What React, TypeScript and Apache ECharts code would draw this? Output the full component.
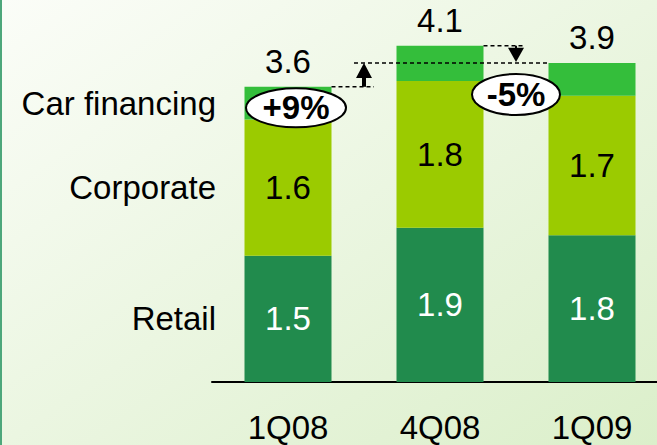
import React, { useEffect, useRef } from "react";
import * as echarts from "echarts";

const categories = ["1Q08", "4Q08", "1Q09"];
const seriesNames = ["Retail", "Corporate", "Car financing"];
const retail = [1.54, 1.88, 1.79];
const corporate = [1.66, 1.79, 1.7];
const carFinancing = [0.4, 0.43, 0.4];
const retailLabels = ["1.5", "1.9", "1.8"];
const corporateLabels = ["1.6", "1.8", "1.7"];
const totalLabels = ["3.6", "4.1", "3.9"];
const changeLabels = ["+9%", "-5%"];

const FONT = "'Liberation Sans', Arial, sans-serif";
const FS = 33;
const COLORS = ["#218B4D", "#9BCB00", "#34BE3B"];

export default function App() {
  const ref = useRef<HTMLDivElement>(null);
  useEffect(() => {
    const el = ref.current;
    if (!el) return;
    const chart = echarts.init(el, undefined, { renderer: "svg" });
    const option: any = {
      animation: false,
      backgroundColor: new echarts.graphic.LinearGradient(0, 0, 1, 1, [
        { offset: 0, color: "#fbfdf8" },
        { offset: 1, color: "#dbefca" },
      ]),
      grid: { left: 212, top: 13, width: 456, height: 369, outerBoundsMode: "none", containLabel: false },
      xAxis: {
        type: "category",
        data: categories,
        axisLine: { lineStyle: { color: "#000", width: 2 } },
        axisTick: { show: false },
        axisLabel: { fontSize: FS, color: "#000", fontFamily: FONT, margin: 29 },
      },
      yAxis: { type: "value", min: 0, max: 4.5, show: false },
      series: [
        {
          name: seriesNames[0],
          type: "bar",
          stack: "s",
          barWidth: 87,
          data: retail,
          itemStyle: { color: COLORS[0] },
          label: {
            show: true,
            position: "inside",
            color: "#fff",
            fontSize: FS,
            fontFamily: FONT,
            formatter: (p: any) => retailLabels[p.dataIndex],
          },
        },
        {
          name: seriesNames[1],
          type: "bar",
          stack: "s",
          barWidth: 87,
          data: corporate,
          itemStyle: { color: COLORS[1] },
          label: {
            show: true,
            position: "inside",
            color: "#000",
            fontSize: FS,
            fontFamily: FONT,
            formatter: (p: any) => corporateLabels[p.dataIndex],
          },
        },
        {
          name: seriesNames[2],
          type: "bar",
          stack: "s",
          barWidth: 87,
          data: carFinancing,
          itemStyle: { color: COLORS[2] },
          label: {
            show: true,
            position: "top",
            distance: 9,
            color: "#000",
            fontSize: FS,
            fontFamily: FONT,
            formatter: (p: any) => totalLabels[p.dataIndex],
          },
        },
      ],
    };
    chart.setOption(option);

    const px = (i: number, v: number) =>
      chart.convertToPixel({ xAxisIndex: 0, yAxisIndex: 0 }, [i, v]) as number[];
    const totals = categories.map((_, i) => retail[i] + corporate[i] + carFinancing[i]);
    const cx = categories.map((_, i) => px(i, 0)[0]);
    const top = totals.map((t, i) => px(i, t)[1]);
    const half = 43.5;
    const b01 = (cx[0] + cx[1]) / 2;
    const b12 = (cx[1] + cx[2]) / 2;

    const legendY = [
      px(0, retail[0] / 2)[1],
      px(0, retail[0] + corporate[0] / 2)[1],
      px(0, retail[0] + corporate[0] + carFinancing[0] / 2)[1],
    ];

    const dash = { stroke: "#000", lineWidth: 1.5, lineDash: [4, 3] };
    const graphic: any[] = [
      { type: "rect", shape: { x: 0, y: 0, width: 2, height: 445 }, style: { fill: "#4da77b" }, z: 100 },
      ...seriesNames.map((n, k) => ({
        type: "text",
        x: 216,
        y: legendY[k],
        z: 100,
        style: {
          text: n,
          fontSize: FS,
          fontFamily: FONT,
          fill: "#000",
          align: "right",
          verticalAlign: "middle",
        },
      })),
      // 1Q08 -> 1Q09 comparison
      { type: "line", z: 100, shape: { x1: cx[0] + half, y1: top[0], x2: b01 + 10, y2: top[0] }, style: dash },
      { type: "line", z: 100, shape: { x1: b01 - 10, y1: top[2], x2: cx[2] - half, y2: top[2] }, style: dash },
      { type: "rect", z: 100, shape: { x: b01 - 2, y: top[2] + 13, width: 4, height: top[0] - top[2] - 13 }, style: { fill: "#000" } },
      {
        type: "polygon",
        z: 100,
        shape: { points: [[b01 - 8, top[2] + 15], [b01 + 8, top[2] + 15], [b01, top[2]]] },
        style: { fill: "#000" },
      },
      // 4Q08 -> 1Q09 comparison
      { type: "line", z: 100, shape: { x1: cx[1] + half, y1: top[1], x2: b12 + 7, y2: top[1] }, style: dash },
      { type: "line", z: 100, shape: { x1: b12, y1: top[1], x2: b12, y2: top[1] + 3 }, style: { stroke: "#000", lineWidth: 2 } },
      {
        type: "polygon",
        z: 100,
        shape: { points: [[b12 - 8, top[1] + 2], [b12 + 8, top[1] + 2], [b12, top[2] - 1]] },
        style: { fill: "#000" },
      },
      // ellipses
      { type: "ellipse", z: 110, shape: { cx: cx[0] + 8, cy: top[0] + 21, rx: 50, ry: 19.5 }, style: { fill: "#fff", stroke: "#000", lineWidth: 2 } },
      {
        type: "text",
        z: 111,
        x: cx[0] + 8,
        y: top[0] + 21,
        style: { text: changeLabels[0], fontSize: FS, fontWeight: "bold", fontFamily: FONT, fill: "#000", align: "center", verticalAlign: "middle" },
      },
      { type: "ellipse", z: 110, shape: { cx: b12, cy: top[2] + 31.5, rx: 44, ry: 20.5 }, style: { fill: "#fff", stroke: "#000", lineWidth: 2 } },
      {
        type: "text",
        z: 111,
        x: b12,
        y: top[2] + 31.5,
        style: { text: changeLabels[1], fontSize: FS, fontWeight: "bold", fontFamily: FONT, fill: "#000", align: "center", verticalAlign: "middle" },
      },
    ];
    chart.setOption({ graphic });

    return () => chart.dispose();
  }, []);
  return <div ref={ref} style={{ position: "fixed", left: 0, top: 0, width: 657, height: 445 }} />;
}
